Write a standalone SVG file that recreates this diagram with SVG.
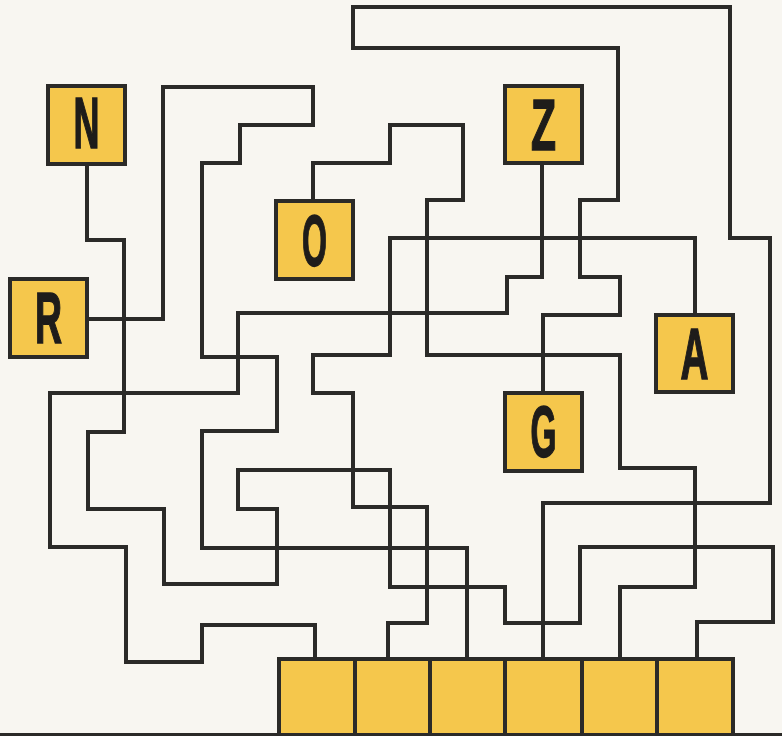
<svg xmlns="http://www.w3.org/2000/svg" width="782" height="736" viewBox="0 0 782 736">
<style>
.bg{fill:#f8f6f1}
.w{fill:none;stroke:#2b2a28;stroke-width:4;stroke-linejoin:miter;stroke-linecap:square}
.box{fill:#f5c74c;stroke:#2b2a28;stroke-width:4}
.lt{font-family:"Liberation Sans",Arial,sans-serif;font-weight:bold;font-size:72px;fill:#1e1c1a;stroke:#1e1c1a;stroke-width:1.6;text-anchor:middle}
</style>
<rect class="bg" x="0" y="0" width="782" height="736"/>
<g id="connectors">
<path id="path-N" class="w" d="M87,164 V240 H124 V432 H88 V509 H164 V584 H277 V509 H238 V470 H390 V587 H505 V623 H580 V547 H773 V622 H697 V658"/>
<path id="path-R" class="w" d="M87,319 H163 V87 H313 V125 H240 V163 H202 V357 H277 V431 H202 V548 H467 V658"/>
<path id="path-O" class="w" d="M313,200 V163 H390 V125 H463 V200 H427 V355 H620 V468 H695 V587 H620 V658"/>
<path id="path-Z" class="w" d="M542,163 V277 H507 V313 H238 V393 H50 V547 H126 V662 H202 V625 H315 V658"/>
<path id="path-A" class="w" d="M695,315 V238 H390 V355 H313 V393 H353 V507 H427 V623 H388 V658"/>
<path id="path-G" class="w" d="M543,392 V315 H620 V277 H580 V200 H618 V48 H353 V7 H730 V238 H770 V503 H543 V658"/>
</g>
<g id="node-N"><rect class="box" x="48" y="86" width="77" height="78"/><text class="lt" x="86.5" y="148" textLength="26" lengthAdjust="spacingAndGlyphs">N</text></g>
<g id="node-R"><rect class="box" x="10" y="279" width="77" height="78"/><text class="lt" x="48.5" y="343" textLength="27" lengthAdjust="spacingAndGlyphs">R</text></g>
<g id="node-O"><rect class="box" x="276" y="201" width="77" height="78"/><text class="lt" x="314.5" y="266" textLength="25" lengthAdjust="spacingAndGlyphs">O</text></g>
<g id="node-Z"><rect class="box" x="505" y="86" width="77" height="77"/><text class="lt" x="543.5" y="150" textLength="25" lengthAdjust="spacingAndGlyphs">Z</text></g>
<g id="node-A"><rect class="box" x="656" y="315" width="77" height="77"/><text class="lt" x="694.5" y="379" textLength="28" lengthAdjust="spacingAndGlyphs">A</text></g>
<g id="node-G"><rect class="box" x="505" y="393" width="77" height="78"/><text class="lt" x="543.5" y="457" textLength="26" lengthAdjust="spacingAndGlyphs">G</text></g>
<g id="node-slot1"><rect class="box" x="279" y="659" width="76" height="76"/></g>
<g id="node-slot2"><rect class="box" x="355" y="659" width="75" height="76"/></g>
<g id="node-slot3"><rect class="box" x="430" y="659" width="75" height="76"/></g>
<g id="node-slot4"><rect class="box" x="505" y="659" width="77" height="76"/></g>
<g id="node-slot5"><rect class="box" x="582" y="659" width="75" height="76"/></g>
<g id="node-slot6"><rect class="box" x="657" y="659" width="76" height="76"/></g>
<line x1="0" y1="734.5" x2="782" y2="734.5" stroke="#2b2a28" stroke-width="3"/>
</svg>
